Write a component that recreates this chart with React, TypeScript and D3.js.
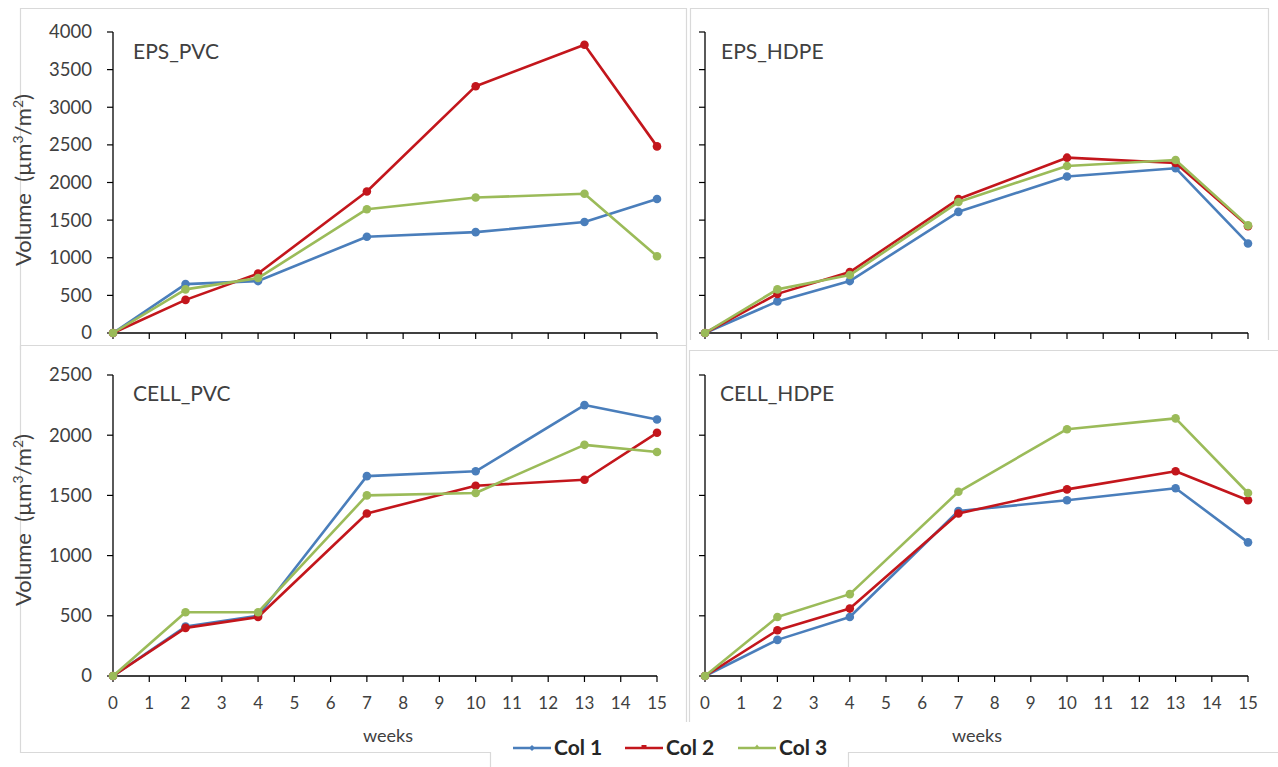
import React from "react";
import * as d3 from "d3";

// Sampling weeks shared by every panel
const weeks = [0, 2, 4, 7, 10, 13, 15];
const xTicks = d3.range(0, 16);

const seriesNames = ["Col 1", "Col 2", "Col 3"];
const seriesColors = ["#4A7EBB", "#C3161C", "#9BBB59"];

// EPS on PVC
const epsPvcCol1 = [0, 650, 690, 1280, 1340, 1475, 1780];
const epsPvcCol2 = [0, 440, 790, 1880, 3280, 3830, 2480];
const epsPvcCol3 = [0, 580, 730, 1645, 1800, 1850, 1020];

// EPS on HDPE
const epsHdpeCol1 = [0, 420, 690, 1610, 2080, 2190, 1190];
const epsHdpeCol2 = [0, 520, 810, 1780, 2330, 2260, 1420];
const epsHdpeCol3 = [0, 580, 770, 1740, 2220, 2300, 1430];

// Cellulose on PVC
const cellPvcCol1 = [0, 410, 500, 1660, 1700, 2250, 2130];
const cellPvcCol2 = [0, 400, 490, 1350, 1580, 1630, 2020];
const cellPvcCol3 = [0, 530, 530, 1500, 1520, 1920, 1860];

// Cellulose on HDPE
const cellHdpeCol1 = [0, 300, 490, 1370, 1460, 1560, 1110];
const cellHdpeCol2 = [0, 380, 560, 1350, 1550, 1700, 1460];
const cellHdpeCol3 = [0, 490, 680, 1530, 2050, 2140, 1520];

const topTicks = [0, 500, 1000, 1500, 2000, 2500, 3000, 3500, 4000];
const bottomTicks = [0, 500, 1000, 1500, 2000, 2500];

const FONT = "Lato, 'Open Sans', sans-serif";
const TEXT = "#404040";
const FRAME = "#D9D9D9";

type Panel = {
  title: string;
  series: number[][];
  xRange: [number, number];
  yRange: [number, number];
  yMax: number;
  yTicks: number[];
  yLabels: boolean;
  xLabels: boolean;
  titlePos: [number, number];
};

const panels: Panel[] = [
  {
    title: "EPS_PVC",
    series: [epsPvcCol1, epsPvcCol2, epsPvcCol3],
    xRange: [113, 657],
    yRange: [333, 32],
    yMax: 4000,
    yTicks: topTicks,
    yLabels: true,
    xLabels: false,
    titlePos: [133, 59],
  },
  {
    title: "EPS_HDPE",
    series: [epsHdpeCol1, epsHdpeCol2, epsHdpeCol3],
    xRange: [705, 1248],
    yRange: [333, 32],
    yMax: 4000,
    yTicks: topTicks,
    yLabels: false,
    xLabels: false,
    titlePos: [721, 59],
  },
  {
    title: "CELL_PVC",
    series: [cellPvcCol1, cellPvcCol2, cellPvcCol3],
    xRange: [113, 657],
    yRange: [676, 375],
    yMax: 2500,
    yTicks: bottomTicks,
    yLabels: true,
    xLabels: true,
    titlePos: [133, 401],
  },
  {
    title: "CELL_HDPE",
    series: [cellHdpeCol1, cellHdpeCol2, cellHdpeCol3],
    xRange: [705, 1248],
    yRange: [676, 375],
    yMax: 2500,
    yTicks: bottomTicks,
    yLabels: false,
    xLabels: true,
    titlePos: [720, 401],
  },
];

function YTitle({ x, y }: { x: number; y: number }) {
  return (
    <text
      transform={`translate(${x},${y}) rotate(-90)`}
      textAnchor="middle"
      fontFamily={FONT}
      fontSize={22}
      fill={TEXT}
      style={{ whiteSpace: "pre" }}
    >
      {"Volume  (µm"}
      <tspan fontSize={14} dy={-8}>3</tspan>
      <tspan dy={8}>/m</tspan>
      <tspan fontSize={14} dy={-8}>2</tspan>
      <tspan dy={8}>)</tspan>
    </text>
  );
}

function ChartPanel({ p }: { p: Panel }) {
  const x = d3.scaleLinear().domain([0, 15]).range(p.xRange);
  const y = d3.scaleLinear().domain([0, p.yMax]).range(p.yRange);
  const line = d3
    .line<number>()
    .x((_, i) => x(weeks[i]))
    .y((v) => y(v));
  const y0 = y(0);
  const x0 = x(0);
  return (
    <g>
      {/* axes */}
      <line x1={x0} x2={x0} y1={y(p.yMax)} y2={y0} stroke="#000" strokeWidth={1.3} />
      <line x1={x0} x2={x(15)} y1={y0} y2={y0} stroke="#000" strokeWidth={1.3} />
      {p.yTicks.map((t) => (
        <g key={"y" + t}>
          <line x1={x0 - 6} x2={x0} y1={y(t)} y2={y(t)} stroke="#000" strokeWidth={1.2} />
          {p.yLabels && (
            <text
              x={x0 - 21}
              y={y(t)}
              dy="0.35em"
              textAnchor="end"
              fontFamily={FONT}
              fontSize={18.5}
              fill={TEXT}
            >
              {t}
            </text>
          )}
        </g>
      ))}
      {xTicks.map((t) => (
        <g key={"x" + t}>
          <line x1={x(t)} x2={x(t)} y1={y0} y2={y0 + 6} stroke="#000" strokeWidth={1.2} />
          {p.xLabels && (
            <text
              x={x(t)}
              y={y0 + 27}
              dy="0.35em"
              textAnchor="middle"
              fontFamily={FONT}
              fontSize={17}
              fill={TEXT}
            >
              {t}
            </text>
          )}
        </g>
      ))}
      <text x={p.titlePos[0]} y={p.titlePos[1]} fontFamily={FONT} fontSize={21} fill={TEXT}>
        {p.title}
      </text>
      {/* series */}
      {p.series.map((s, si) => (
        <g key={si}>
          <path d={line(s) || ""} fill="none" stroke={seriesColors[si]} strokeWidth={2.6} strokeLinejoin="round" />
          {s.map((v, i) => (
            <circle key={i} cx={x(weeks[i])} cy={y(v)} r={4.3} fill={seriesColors[si]} />
          ))}
        </g>
      ))}
    </g>
  );
}

function LegendMarker({ i, cx, cy }: { i: number; cx: number; cy: number }) {
  const c = seriesColors[i];
  if (i === 0) {
    const d = 3;
    return <path d={`M${cx},${cy - d}L${cx + d},${cy}L${cx},${cy + d}L${cx - d},${cy}Z`} fill={c} />;
  }
  if (i === 1) return <rect x={cx - 2.5} y={cy - 3} width={5} height={4} fill={c} />;
  return <path d={`M${cx},${cy - 3.5}L${cx + 3.5},${cy + 1}L${cx - 3.5},${cy + 1}Z`} fill={c} />;
}

export default function App() {
  const legendX = [513, 625, 738];
  const legendY = 748;
  return (
    <svg width={1278} height={767} style={{ position: "absolute", left: 0, top: 0, background: "#fff" }}>
      <rect width={1278} height={767} fill="#fff" />
      {/* chart-area frames */}
      <g stroke={FRAME} strokeWidth={1.2} fill="none">
        <path d="M20.5,350 V8.5 H686.5 V345" />
        <path d="M690.5,340 V8.5 H1268.5 V340" />
        <path d="M20.5,345.5 V752.5 H490.5 V767" />
        <path d="M20.5,345.5 H686.5 V722" />
        <path d="M689.5,722 V350.5 H1278" />
        <path d="M848.5,767 V752.5 H1278" />
      </g>
      {panels.map((p) => (
        <ChartPanel key={p.title} p={p} />
      ))}
      <YTitle x={31} y={180} />
      <YTitle x={31} y={520} />
      <text x={388} y={742} textAnchor="middle" fontFamily={FONT} fontSize={18} fill={TEXT}>
        weeks
      </text>
      <text x={977} y={742} textAnchor="middle" fontFamily={FONT} fontSize={18} fill={TEXT}>
        weeks
      </text>
      {/* legend */}
      {seriesNames.map((n, i) => (
        <g key={n}>
          <line x1={legendX[i]} x2={legendX[i] + 38} y1={legendY} y2={legendY} stroke={seriesColors[i]} strokeWidth={2.4} />
          <LegendMarker i={i} cx={legendX[i] + 19} cy={legendY} />
          <text
            x={legendX[i] + 41}
            y={legendY}
            dy="0.35em"
            fontFamily={FONT}
            fontWeight="bold"
            fontSize={21}
            fill="#262626"
          >
            {n}
          </text>
        </g>
      ))}
    </svg>
  );
}
